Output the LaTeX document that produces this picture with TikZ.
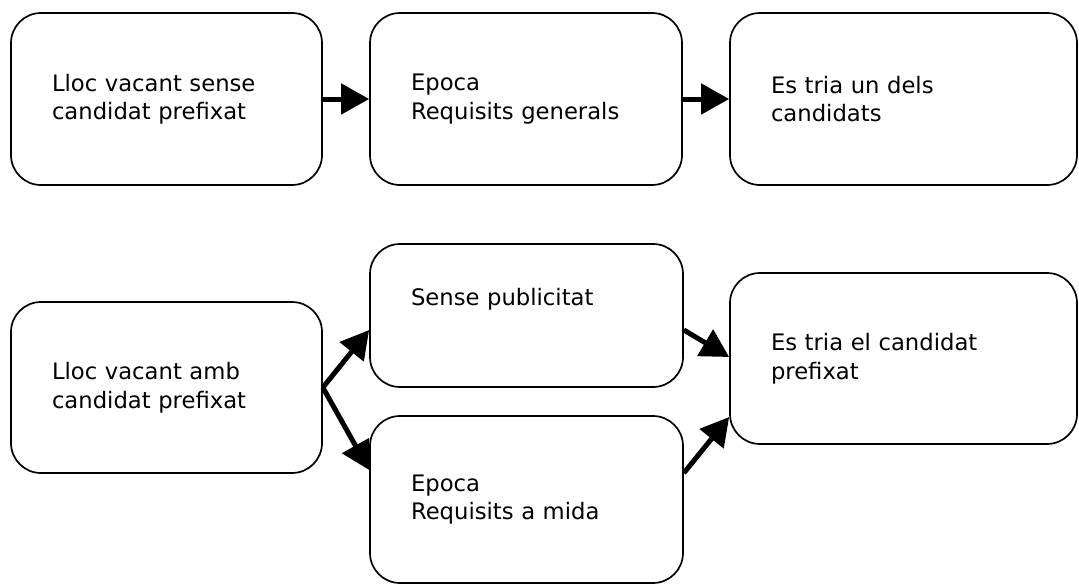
\documentclass[tikz,border=0pt]{standalone}
\usepackage{fontspec}
\setmainfont{DejaVu Sans}
\usetikzlibrary{arrows.meta}
\begin{document}
\begin{tikzpicture}[x=1pt,y=-1pt,
  box/.style={draw, line width=1.7pt, rounded corners=30pt, align=left,
    inner xsep=0pt, inner ysep=0pt, font=\fontsize{22.7}{28.5}\selectfont},
  flow/.style={line width=5pt, -{Triangle[length=28pt,width=30pt]}}]
\useasboundingbox (0,0) rectangle (1079,584);
% top row
\node[box, minimum width=311pt, minimum height=172pt, text width=229pt] (b1) at (166.5,99) {Lloc vacant sense\\candidat prefixat};
\node[box, minimum width=312pt, minimum height=172pt, text width=230pt] (b2) at (526,99) {Epoca\\Requisits generals};
\node[box, minimum width=347pt, minimum height=172pt, text width=265pt] (b3) at (903.5,99) {Es tria un dels\\candidats};
% bottom row
\node[box, minimum width=311pt, minimum height=171pt, text width=229pt] (b4) at (166.5,387.5) {Lloc vacant amb\\candidat prefixat};
\node[box, minimum width=313pt, minimum height=143pt, text width=231pt] (b5) at (526.5,315.5) {Sense publicitat\\\strut};
\node[box, minimum width=313pt, minimum height=167pt, text width=231pt] (b6) at (526.5,499.5) {Epoca\\Requisits a mida};
\node[box, minimum width=347pt, minimum height=171pt, text width=265pt] (b7) at (903.5,358.5) {Es tria el candidat\\prefixat};
% connectors
\draw[flow] (b1.east) -- (b2.west);
\draw[flow] (b2.east) -- (b3.west);
\draw[flow] (b4.east) -- ([yshift=-14.5pt]b5.west);
\draw[flow] (b4.east) -- ([yshift=29.5pt]b6.west);
\draw[flow] ([yshift=-14.5pt]b5.east) -- ([yshift=1.5pt]b7.west);
\draw[flow] ([yshift=26.5pt]b6.east) -- ([yshift=-58.5pt]b7.west);
\end{tikzpicture}
\end{document}
